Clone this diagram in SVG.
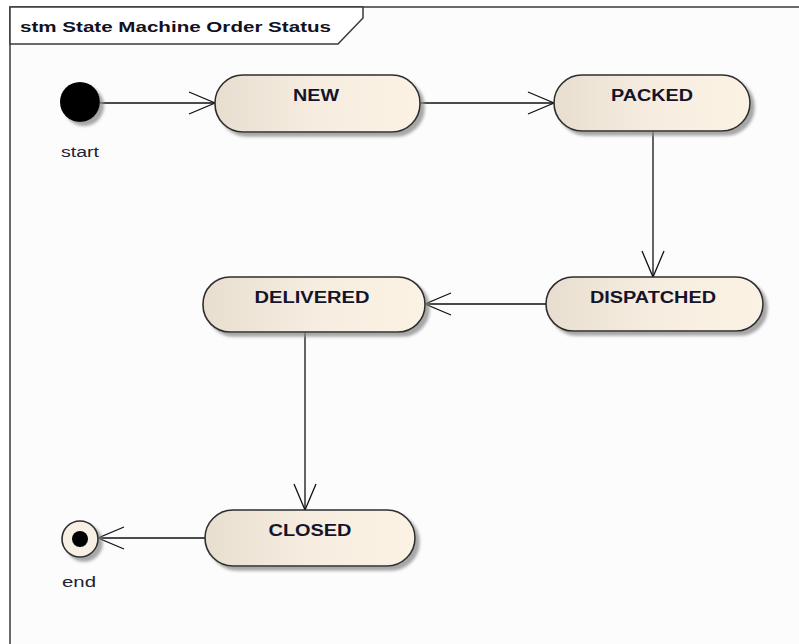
<svg xmlns="http://www.w3.org/2000/svg" width="799" height="644" viewBox="0 0 799 644">
  <style>
    .frame-bg { fill: #fcfcfc; }
    .frame { fill: none; stroke: #3a3a3a; stroke-width: 1.5; }
    .tab { fill: #ffffff; stroke: #3a3a3a; stroke-width: 1.5; }
    .title { font-family: "Liberation Sans", Arial, sans-serif; font-weight: bold; font-size: 15px; fill: #111122; }
    .state { fill: url(#stateFill); stroke: #2e2e2e; stroke-width: 1.6; filter: url(#shadow); }
    .label { font-family: "Liberation Sans", Arial, sans-serif; font-weight: bold; font-size: 16px; fill: #14142a; text-anchor: middle; }
    .caption { font-family: "Liberation Sans", Arial, sans-serif; font-size: 14px; fill: #222233; text-anchor: middle; }
    .edge { fill: none; stroke: #111111; stroke-width: 1.3; marker-end: url(#open); }
  </style>
  <defs>
    <linearGradient id="stateFill" x1="0" y1="0" x2="1" y2="0">
      <stop offset="0" stop-color="#e8ded0"/>
      <stop offset="0.5" stop-color="#f6ede0"/>
      <stop offset="1" stop-color="#fcf2e4"/>
    </linearGradient>
    <filter id="shadow" x="-10%" y="-20%" width="130%" height="160%">
      <feDropShadow dx="4" dy="4" stdDeviation="1.8" flood-color="#8a8a8a" flood-opacity="0.75"/>
    </filter>
    <marker id="open" viewBox="0 0 28 26" refX="27" refY="13" markerWidth="28" markerHeight="26" markerUnits="userSpaceOnUse" orient="auto">
      <path d="M1,2 L27,13 L1,24" fill="none" stroke="#111111" stroke-width="1.3"/>
    </marker>
  </defs>

  <!-- diagram frame with name tab -->
  <g id="frame">
    <rect class="frame-bg" x="10" y="7" width="800" height="650"/>
    <path class="frame" d="M10,650 L10,7 L805,7"/>
    <path class="tab" d="M10,7 L363,7 L363,18 L338,44 L10,44 Z"/>
    <text class="title" x="20" y="32" textLength="311" lengthAdjust="spacingAndGlyphs">stm State Machine Order Status</text>
  </g>

  <!-- transitions -->
  <g id="connectors">
    <line class="edge" x1="100" y1="103" x2="215" y2="103"/>
    <line class="edge" x1="420" y1="103" x2="554" y2="103"/>
    <line class="edge" x1="653" y1="131" x2="653" y2="277"/>
    <line class="edge" x1="546" y1="304" x2="425" y2="304"/>
    <line class="edge" x1="305" y1="332" x2="305" y2="510"/>
    <line class="edge" x1="205" y1="538" x2="98" y2="538"/>
  </g>

  <g id="start">
    <circle cx="80" cy="102" r="20" fill="#000000" filter="url(#shadow)"/>
    <text class="caption" x="80" y="157" textLength="38" lengthAdjust="spacingAndGlyphs">start</text>
  </g>

  <g id="new">
    <rect class="state" x="215" y="75" width="205" height="57" rx="28" ry="28"/>
    <text class="label" x="316" y="101" textLength="46" lengthAdjust="spacingAndGlyphs">NEW</text>
  </g>

  <g id="packed">
    <rect class="state" x="554" y="75" width="196" height="56" rx="28" ry="28"/>
    <text class="label" x="652" y="101" textLength="82" lengthAdjust="spacingAndGlyphs">PACKED</text>
  </g>

  <g id="dispatched">
    <rect class="state" x="546" y="277" width="217" height="54" rx="27" ry="27"/>
    <text class="label" x="653" y="303" textLength="126" lengthAdjust="spacingAndGlyphs">DISPATCHED</text>
  </g>

  <g id="delivered">
    <rect class="state" x="203" y="277" width="222" height="55" rx="27" ry="27"/>
    <text class="label" x="312" y="303" textLength="115" lengthAdjust="spacingAndGlyphs">DELIVERED</text>
  </g>

  <g id="closed">
    <rect class="state" x="205" y="510" width="210" height="56" rx="28" ry="28"/>
    <text class="label" x="310" y="536" textLength="83" lengthAdjust="spacingAndGlyphs">CLOSED</text>
  </g>

  <g id="end">
    <circle cx="80" cy="539" r="18" fill="#f7efe4" stroke="#2e2e2e" stroke-width="1.6" filter="url(#shadow)"/>
    <circle cx="80" cy="539" r="8" fill="#000000"/>
    <text class="caption" x="79" y="587" textLength="34" lengthAdjust="spacingAndGlyphs">end</text>
  </g>
</svg>
